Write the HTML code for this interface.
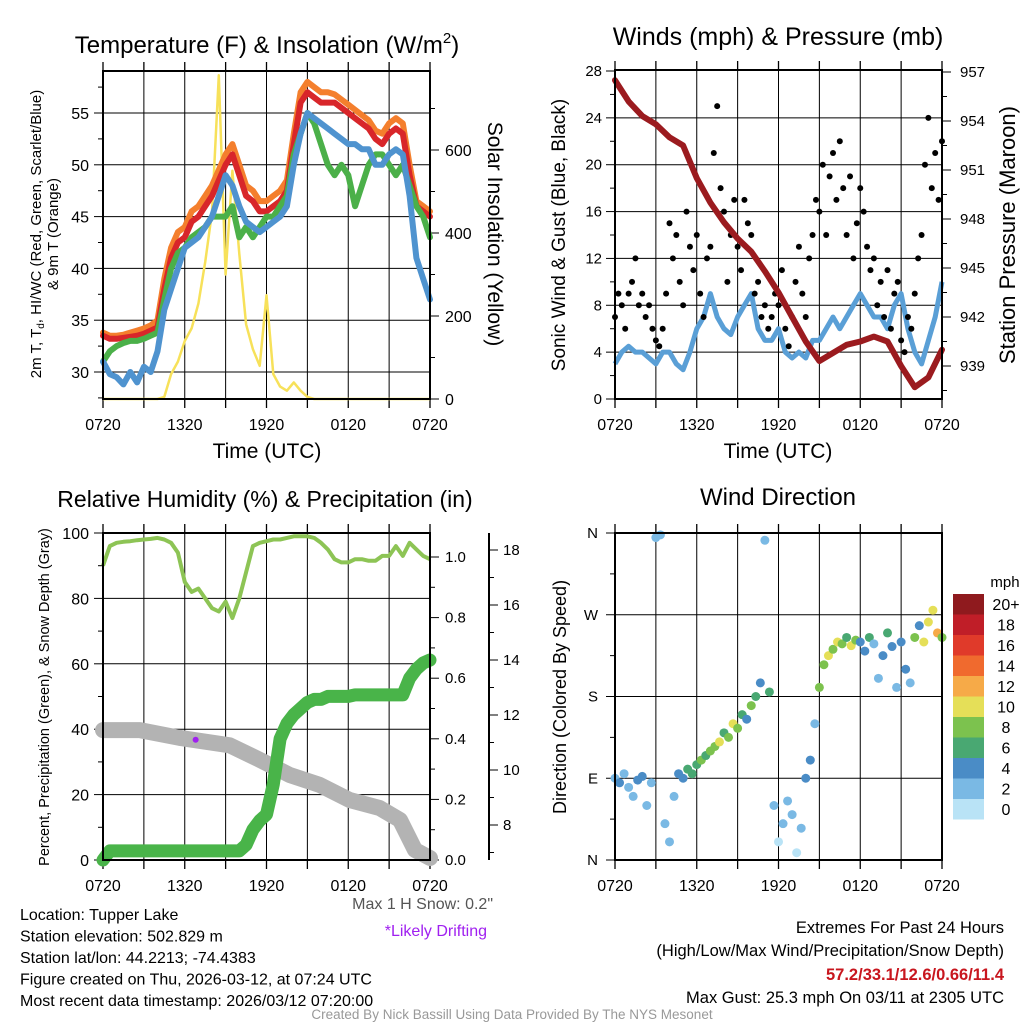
<!DOCTYPE html>
<html><head><meta charset="utf-8"><style>
html,body{margin:0;padding:0;background:#fff;}
svg{display:block;font-family:"Liberation Sans",Arial,sans-serif;}
</style></head><body>
<svg id="c" width="1024" height="1024" viewBox="0 0 1024 1024" xmlns="http://www.w3.org/2000/svg"></svg>
<script>
// ---------- DATA ----------
const hourLabels = ["0720","1320","1920","0120","0720"];
const tempRed = [33.5,33.2,33.2,33.3,33.4,33.5,33.7,34,34.3,38,41,42.5,43,44.5,45,46,47,48.5,50,51,49,47,46.5,45.5,45.5,46,46.5,47.5,52,56,57,56.5,56,56,56,55.5,55,54.5,54,53.5,52.5,52,53,53.5,53,49,46,45.5,45];
const tempOrange = [33.8,33.5,33.5,33.6,33.8,34,34.2,34.5,35,39,42,43.5,44,45.5,46,47,48,49.5,51,52,50,48,47.5,46.5,46.5,47,47.5,48.5,53,57,58,57.5,57,57,56.8,56.3,55.8,55.3,54.8,54.3,53.3,53,54,54.5,54,50,46.5,46,45.5];
const tempBlue = [31,29.8,29.5,28.8,30,29,30.5,30,32,36,38,40,42,42.5,43,44,45,47,49,48,46,44.5,44,43.5,44,44.5,45,46,50,53,55,54.5,54,53.5,53,52.5,52,52,51.5,51.5,50,50,51,51.5,51,47,41,39,37];
const tempGreen = [31,32,32.5,32.8,33,33,33.2,33.5,33.8,37,40,41.5,42,43,43.5,44,45,45,45,46,43,44,43,44,45,45,46,47,51,53,55,54,52,50,49,50,49,46,48,50,51,51,50,49,50,48,46,45,43];
const solar = [0,0,0,0,0,0,0,0,0,5,60,90,140,170,230,330,450,780,300,550,350,180,120,80,250,60,30,20,40,20,5,0,0,0,0,0,0,0,0,0,0,0,0,0,0,0,0,0,0];
const windSonic = [3,4,4.5,4,4,3.5,3,4,4,3,2.5,4,6,7,9,7,6,5.5,7,8,9,6,5,5,6,4,3.5,4,3.5,5,5,6,7,6,7,8,9,8,7,7,6,8,9,6,4,3,5,7,10];
const gusts = [7,9,8,6,9,10,12,8,9,7,8,6,5,4.5,6,9,15,12,14,10,8,16,13,11,14,9,7,12,13,21,25,18,16,10,14,17,13,11,17,15,14,9,10,7,8,6,7,9,8,11,6,4.5,7,10,13,9,7,12,14,17,16,20,14,19,21,17,22,18,14,19,12,15,18,16,13,11,12,8,10,7,11,6,9,10,5,4,7,6,9,12,14,20,24,18,21,17,22];
const pressure = [956.5,955.2,954.3,953.8,953,952.5,950.5,949,947.8,946.8,946,944.8,943.5,942,940.5,939.3,939.8,940.3,940.5,940.8,940.5,939,937.7,938.3,940];
const rh = [90,96,97,97.3,97.5,97.8,98,98.2,98.5,98,97,94,85,82,83,80,77,76,79,74,80,88,96,97,97.5,98,98,98.5,99,99,99,98.5,97,95,92,91,91,92,92,91.5,91.5,93,93,96,93,97,95,93,92];
const precip = [0,0.03,0.03,0.03,0.03,0.03,0.03,0.03,0.03,0.03,0.03,0.03,0.03,0.03,0.03,0.03,0.03,0.03,0.03,0.03,0.03,0.05,0.1,0.13,0.15,0.25,0.4,0.45,0.48,0.5,0.52,0.53,0.53,0.54,0.54,0.54,0.54,0.545,0.545,0.545,0.545,0.545,0.545,0.545,0.545,0.6,0.63,0.65,0.66];
const snowHours = [0,2.7,5.6,9.3,11.5,13.7,15.9,18.1,20.3,21.8,22.9,24];
const snowDepth = [11.45,11.45,11.17,10.9,10.37,9.82,9.46,8.91,8.62,8.18,7.09,6.8];
const wdDir = [90,85,95,80,70,88,92,60,85,355,358,40,20,70,95,90,100,95,105,110,115,120,125,130,140,135,150,145,160,155,170,180,195,352,185,60,20,40,65,50,8,35,90,110,150,190,215,225,232,240,238,245,236,242,240,230,245,238,200,225,250,235,190,240,210,195,245,258,240,262,275,250,245];
const wdSpeed = [3,4,2,3,3,4,5,2,3,2,2,3,2,3,4,5,6,7,6,8,7,9,8,10,7,9,11,8,6,5,9,7,5,2,6,3,1,2,3,2,1,3,4,5,3,8,9,10,8,11,9,7,10,8,5,4,6,3,2,5,7,4,3,5,4,3,9,5,10,11,11,13,8];
const legendLabels = ["20+","18","16","14","12","10","8","6","4","2","0"];
const speedColors = ["#b9e3f6","#7ab9e4","#4a8cc6","#49a872","#7cc24e","#e5df58","#f6aa48","#f06a2e","#e03a2a","#c01e28","#8f1a1e"];

// ---------- HELPERS ----------
const NS="http://www.w3.org/2000/svg";
const svg=document.getElementById('c');
function mk(tag,attrs,parent){const e=document.createElementNS(NS,tag);for(const k in attrs)e.setAttribute(k,attrs[k]);(parent||svg).appendChild(e);return e;}
function txt(x,y,s,size,anchor,parent,extra){const e=mk('text',Object.assign({x:x,y:y,'font-size':size,'text-anchor':anchor||'middle',fill:'#000'},extra||{}),parent);e.textContent=s;return e;}
function lin(x1,y1,x2,y2,stroke,w,parent){return mk('line',{x1:x1,y1:y1,x2:x2,y2:y2,stroke:stroke,'stroke-width':w},parent);}
function pathFrom(xs,ys){let d='';for(let i=0;i<xs.length;i++)d+=(i?'L':'M')+xs[i].toFixed(1)+' '+ys[i].toFixed(1);return d;}
function hourScale(x0,x1){return h=>x0+(x1-x0)*h/24;}
function linScale(v0,p0,v1,p1){return v=>p0+(v-v0)*(p1-p0)/(v1-v0);}

function frame(name,x0,x1,y0,y1){
  const g=mk('g',{});
  
  
  const xs=hourScale(x0,x1);
  for(let k=0;k<=8;k++){const x=xs(k*3);lin(x,y0,x,y1,'#000',1,g);lin(x,y1,x,y1+9,'#000',1.3,g);lin(x,y0-9,x,y0,'#000',1.3,g);}
  for(let k=0;k<5;k++){const t=txt(xs(k*6),y1+31,hourLabels[k],16,'middle',g);}
  return {g:g,xs:xs};
}

// ---------- PANEL 1 ----------
(function(){
  const x0=103,x1=430,y0=71,y1=399;
  const f=frame('temperature-panel',x0,x1,y0,y1);
  const g=f.g, xs=f.xs;
  const yT=linScale(30,372,55,113);
  const yS=linScale(0,399,600,150);
  [30,35,40,45,50,55].forEach(v=>{lin(x0,yT(v),x1,yT(v),'#000',1,g);lin(x0-9,yT(v),x0,yT(v),'#000',1,g);txt(x0-14,yT(v)+6,String(v),16,'end',g);});
  for(let v=27.5;v<59;v+=2.5){if(v%5)lin(x0-5,yT(v),x0,yT(v),'#000',1,g);}
  [0,200,400,600].forEach(v=>{lin(x1,yS(v),x1+9,yS(v),'#000',1,g);txt(x1+15,yS(v)+6,String(v),16,'start',g);});
  [100,300,500,700].forEach(v=>lin(x1,yS(v),x1+5,yS(v),'#000',1,g));
  const hh=tempRed.map((_,i)=>i/2);
  const sol=mk('path',{d:pathFrom(hh.map(xs),solar.map(yS)),fill:'none',stroke:'#f7e15a','stroke-width':2.5,'stroke-linejoin':'round'},g);
  
  const series=[[tempOrange,'#f47f2d','nine-m-temp-line'],[tempRed,'#d8262a','two-m-temp-line'],[tempGreen,'#4bb049','dewpoint-line'],[tempBlue,'#4f93cf','wind-chill-line']];
  series.forEach(s=>{const p=mk('path',{d:pathFrom(hh.map(xs),s[0].map(yT)),fill:'none',stroke:s[1],'stroke-width':6,'stroke-linejoin':'round','stroke-linecap':'round'},g);});
  mk('rect',{x:x0,y:y0,width:x1-x0,height:y1-y0,fill:'none',stroke:'#000','stroke-width':2},g);
  const t=txt(267,53,'Temperature (F) & Insolation (W/m',24,'middle',g);
  const sup=mk('tspan',{dy:-10,'font-size':15},t);sup.textContent='2';
  const cl=mk('tspan',{dy:10},t);cl.textContent=')';
  
  txt(267,458,'Time (UTC)',21,'middle',g);
  const yl=mk('text',{transform:'translate(41,234) rotate(-90)','font-size':15,'text-anchor':'middle'},g);
  
  const a=mk('tspan',{},yl);a.textContent='2m T, T';const b=mk('tspan',{dy:3,'font-size':10},yl);b.textContent='d';const c=mk('tspan',{dy:-3},yl);c.textContent=', HI/WC (Red, Green, Scarlet/Blue)';
  const l2=txt(0,0,'& 9m T (Orange)',15,'middle',g);l2.setAttribute('transform','translate(58,234) rotate(-90)');
  const r=txt(0,0,'Solar Insolation (Yellow)',21,'middle',g);r.setAttribute('transform','translate(488,234) rotate(90)');
  
})();

// ---------- PANEL 2 ----------
(function(){
  const x0=615,x1=942,y0=70,y1=399;
  const f=frame('winds-panel',x0,x1,y0,y1);
  const g=f.g, xs=f.xs;
  const yW=linScale(0,399,28,71);
  const yP=linScale(939,366,957,72);
  [0,4,8,12,16,20,24,28].forEach(v=>{if(v>0&&v<28)lin(x0,yW(v),x1,yW(v),'#000',1,g);lin(x0-9,yW(v),x0,yW(v),'#000',1,g);txt(x0-13,yW(v)+5,String(v),15,'end',g);});
  for(let v=2;v<28;v+=4)lin(x0-5,yW(v),x0,yW(v),'#000',1,g);
  [939,942,945,948,951,954,957].forEach(v=>{lin(x1,yP(v),x1+9,yP(v),'#000',1,g);txt(x1+18,yP(v)+5,String(v),15,'start',g);});
  for(let v=937.5;v<957;v+=1.5){if((v-939)%3)lin(x1,yP(v),x1+5,yP(v),'#000',1,g);}
  const hh=windSonic.map((_,i)=>i/2);
  const w=mk('path',{d:pathFrom(hh.map(xs),windSonic.map(yW)),fill:'none',stroke:'#5a9fd6','stroke-width':5,'stroke-linejoin':'round'},g);
  
  gusts.forEach((v,i)=>{const d=mk('circle',{cx:xs(i/4),cy:yW(v),r:3,fill:'#000'},g);});
  const p=mk('path',{d:pathFrom(pressure.map((_,i)=>xs(i)),pressure.map(yP)),fill:'none',stroke:'#9b1b1f','stroke-width':6,'stroke-linejoin':'round','stroke-linecap':'round'},g);
  
  mk('rect',{x:x0,y:y0,width:x1-x0,height:y1-y0,fill:'none',stroke:'#000','stroke-width':2},g);
  const t=txt(778,45,'Winds (mph) & Pressure (mb)',25,'middle',g);
  txt(778,458,'Time (UTC)',21,'middle',g);
  const yl=txt(0,0,'Sonic Wind & Gust (Blue, Black)',19,'middle',g);yl.setAttribute('transform','translate(565,235) rotate(-90)');
  const yr=txt(0,0,'Station Pressure (Maroon)',22,'middle',g);yr.setAttribute('transform','translate(1015,235) rotate(-90)');
})();

// ---------- PANEL 3 ----------
(function(){
  const x0=103,x1=430,y0=533,y1=860;
  const f=frame('humidity-panel',x0,x1,y0,y1);
  const g=f.g, xs=f.xs;
  const yR=linScale(0,860,100,533);
  const yPr=linScale(0,860,1,557);
  const yS=linScale(8,825,18,550);
  [0,20,40,60,80,100].forEach(v=>{if(v>0)lin(x0,yR(v),x1,yR(v),'#000',1,g);lin(x0-9,yR(v),x0,yR(v),'#000',1,g);txt(x0-14,yR(v)+6,String(v),16,'end',g);});
  for(let v=10;v<100;v+=20)lin(x0-5,yR(v),x0,yR(v),'#000',1,g);
  [0,0.2,0.4,0.6,0.8,1.0].forEach(v=>{lin(x1,yPr(v),x1+9,yPr(v),'#000',1,g);txt(x1+15,yPr(v)+5,v.toFixed(1),15,'start',g);});
  [0.1,0.3,0.5,0.7,0.9].forEach(v=>lin(x1,yPr(v),x1+5,yPr(v),'#000',1,g));
  lin(489,533,489,860,'#000',2,g);
  [8,10,12,14,16,18].forEach(v=>{lin(489,yS(v),498,yS(v),'#000',1,g);txt(503,yS(v)+5,String(v),15,'start',g);});
  [7,9,11,13,15,17].forEach(v=>lin(489,yS(v),494,yS(v),'#000',1,g));
  const sn=mk('path',{d:pathFrom(snowHours.map(xs),snowDepth.map(yS)),fill:'none',stroke:'#b3b3b3','stroke-width':16,'stroke-linejoin':'round','stroke-linecap':'round'},g);
  
  const hh=precip.map((_,i)=>i/2);
  const pr=mk('path',{d:pathFrom(hh.map(xs),precip.map(yPr)),fill:'none',stroke:'#49b449','stroke-width':13,'stroke-linejoin':'round','stroke-linecap':'round'},g);
  
  const rl=mk('path',{d:pathFrom(hh.map(xs),rh.map(yR)),fill:'none',stroke:'#8dc455','stroke-width':4,'stroke-linejoin':'round'},g);
  
  const pd=mk('circle',{cx:xs(6.8),cy:yS(11.1),r:3,fill:'#a020f0'},g);
  mk('rect',{x:x0,y:y0,width:x1-x0,height:y1-y0,fill:'none',stroke:'#000','stroke-width':2},g);
  const t=txt(265,507,'Relative Humidity (%) & Precipitation (in)',23,'middle',g);
  const yl=txt(0,0,'Percent, Precipitation (Green), & Snow Depth (Gray)',14.5,'middle',g);yl.setAttribute('transform','translate(49,697) rotate(-90)');
  txt(493,909,'Max 1 H Snow: 0.2"',16,'end',g,{fill:'#555'});
  txt(487,936,'*Likely Drifting',16,'end',g,{fill:'#a020f0'});
})();

// ---------- PANEL 4 ----------
(function(){
  const x0=615,x1=942,y0=533,y1=860;
  const f=frame('wind-direction-panel',x0,x1,y0,y1);
  const g=f.g, xs=f.xs;
  const yD=linScale(0,860,360,533);
  const dl=['N','E','S','W','N'];
  [0,90,180,270,360].forEach((v,i)=>{if(v>0&&v<360)lin(x0,yD(v),x1,yD(v),'#000',1,g);lin(x0-9,yD(v),x0,yD(v),'#000',1,g);txt(x0-17,yD(v)+5,dl[i],15,'end',g);});
  [45,135,225,315].forEach(v=>lin(x0-5,yD(v),x0,yD(v),'#000',1,g));
  wdDir.forEach((d,i)=>{const bin=Math.min(10,Math.floor(wdSpeed[i]/2));const c=mk('circle',{cx:xs(i/3),cy:yD(d),r:4.5,fill:speedColors[bin]},g);});
  mk('rect',{x:x0,y:y0,width:x1-x0,height:y1-y0,fill:'none',stroke:'#000','stroke-width':2},g);
  const t=txt(778,505,'Wind Direction',24,'middle',g);
  const yl=txt(0,0,'Direction (Colored By Speed)',18,'middle',g);yl.setAttribute('transform','translate(566,697) rotate(-90)');
  const lg=mk('g',{},g);
  txt(1005,587,'mph',15,'middle',lg);
  legendLabels.forEach((l,i)=>{const c=speedColors[10-i];const r=mk('rect',{x:953,y:594+i*20.5,width:31,height:20.5,fill:c},lg);txt(1006,610+i*20.5,l,16,'middle',lg);});
})();

// ---------- FOOTER ----------
(function(){
  const g=mk('g',{});
  ['Location: Tupper Lake','Station elevation: 502.829 m','Station lat/lon: 44.2213; -74.4383','Figure created on Thu, 2026-03-12, at 07:24 UTC','Most recent data timestamp: 2026/03/12 07:20:00'].forEach((s,i)=>txt(20,920+i*21.5,s,16,'start',g));
  const h=mk('g',{});
  txt(1004,933,'Extremes For Past 24 Hours',16.5,'end',h);
  txt(1004,956,'(High/Low/Max Wind/Precipitation/Snow Depth)',16.5,'end',h);
  txt(1004,980,'57.2/33.1/12.6/0.66/11.4',16.5,'end',h,{fill:'#c8161e','font-weight':'bold'});
  txt(1004,1003,'Max Gust: 25.3 mph On 03/11 at 2305 UTC',16.5,'end',h);
  const cr=txt(512,1019,'Created By Nick Bassill Using Data Provided By The NYS Mesonet',13.5,'middle',null,{fill:'#999'});
  
})();
</script>
</body></html>
